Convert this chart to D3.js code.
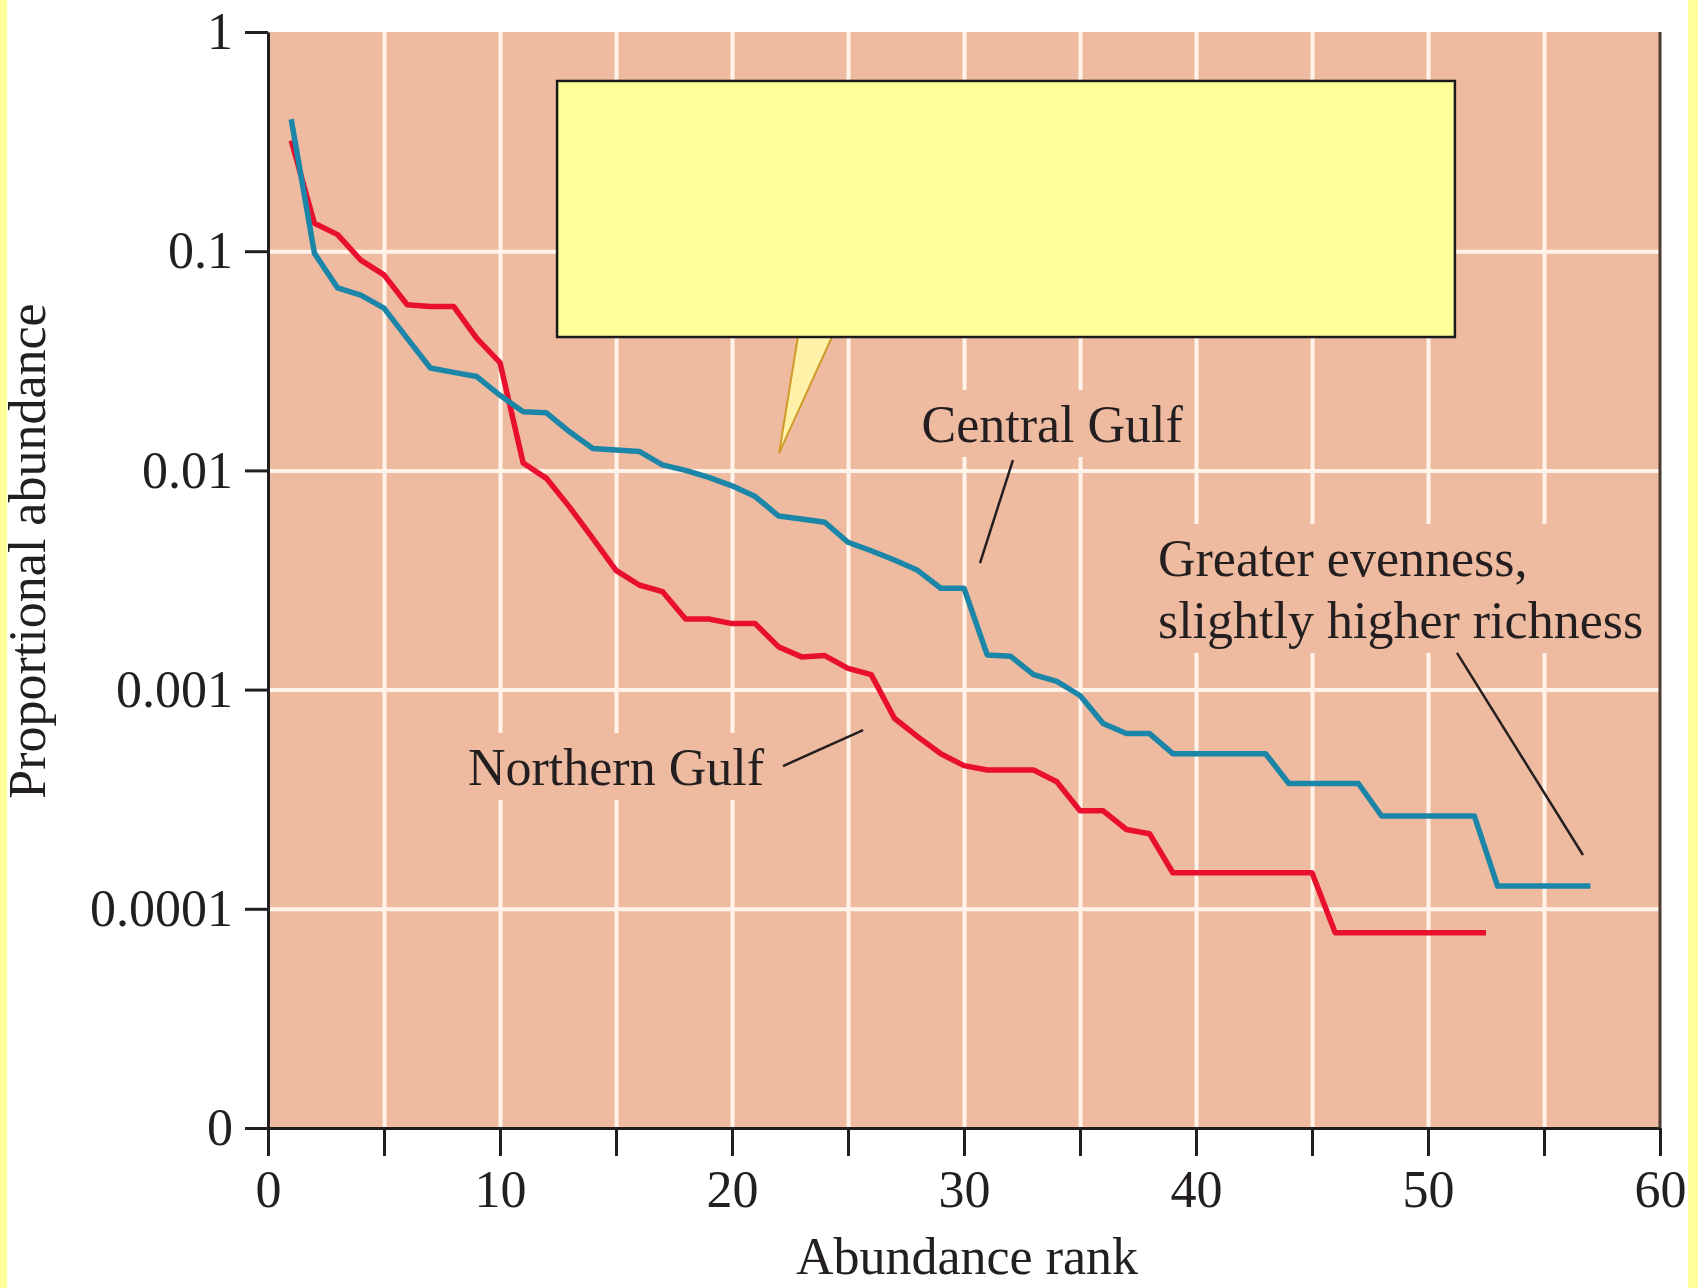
<!DOCTYPE html>
<html>
<head>
<meta charset="utf-8">
<script src="https://cdn.jsdelivr.net/npm/d3@7"></script>
<style>
  body { margin: 0; background: #fff; }
  svg { display: block; }
  text { font-family: "Liberation Serif", "Times New Roman", serif; fill: #231f20; }
</style>
</head>
<body>
<svg id="chart" width="1698" height="1288"></svg>
<script>
// rank-abundance data
const northRank = [1,2,3,4,5,6,7,8,9,10,11,12,13,14,15,16,17,18,19,20,21,22,23,24,25,26,27,28,29,30,
  31,32,33,34,35,36,37,38,39,40,41,42,43,44,45,46,47,48,49,50,51,52,52.5];
const northAbund = [0.32,0.134,0.119,0.091,0.078,0.057,0.056,0.056,0.040,0.031,
  0.0108,0.0092,0.0068,0.0049,0.0035,0.0030,0.0028,0.0021,0.0021,0.0020,
  0.0020,0.00157,0.00141,0.00143,0.00125,0.00117,0.00074,0.00061,0.00051,0.00045,
  0.00043,0.00043,0.00043,0.00038,0.00028,0.00028,0.00023,0.00022,0.000146,0.000146,
  0.000146,0.000146,0.000146,0.000146,0.000146,
  0.0000778,0.0000778,0.0000778,0.0000778,0.0000778,0.0000778,0.0000778,0.0000778];

const centralRank = [1,2,3,4,5,6,7,8,9,10,11,12,13,14,15,16,17,18,19,20,21,22,23,24,25,26,27,28,29,30,
  31,32,33,34,35,36,37,38,39,40,41,42,43,44,45,46,47,48,49,50,51,52,53,54,55,56,57];
const centralAbund = [0.40,0.098,0.068,0.063,0.055,0.040,0.0293,0.028,0.0268,0.022,
  0.0185,0.0183,0.015,0.0126,0.0124,0.0122,0.0106,0.0100,0.0093,0.0085,
  0.0076,0.0062,0.0060,0.0058,0.0047,0.0043,0.0039,0.0035,0.0029,0.0029,
  0.00144,0.00142,0.00117,0.00109,0.00094,0.00070,0.00063,0.00063,0.00051,0.00051,
  0.00051,0.00051,0.00051,0.000373,0.000373,0.000373,0.000373,0.000265,0.000265,0.000265,
  0.000265,0.000265,0.000127,0.000127,0.000127,0.000127,0.000127];

const xTicks = [0,5,10,15,20,25,30,35,40,45,50,55,60];
const xTickLabels = ["0","","10","","20","","30","","40","","50","","60"];
const xGrid = [5,10,15,20,25,30,35,40,45,50,55];
// "0" sits one decade below 0.0001 on this broken log axis
const yTicks = [1e-5,1e-4,1e-3,1e-2,1e-1,1];
const yTickLabels = ["0","0.0001","0.001","0.01","0.1","1"];
const yGrid = [1e-4,1e-3,1e-2,1e-1];

const svg = d3.select('#chart');
const width = 1698, height = 1288;
const plot = { left: 268, right: 1660, top: 32, bottom: 1128 };

// yellow page edges
svg.append('rect').attr('x', 0).attr('y', 0).attr('width', 7).attr('height', height).attr('fill', '#ffff99');
svg.append('rect').attr('x', 1688).attr('y', 0).attr('width', 10).attr('height', height).attr('fill', '#ffff99');

const x = d3.scaleLinear().domain([0, 60]).range([plot.left, plot.right]);
const y = d3.scaleLog().domain([1e-5, 1]).range([plot.bottom, plot.top]);

const salmon = '#efbba0';
svg.append('rect')
  .attr('x', plot.left).attr('y', plot.top)
  .attr('width', plot.right - plot.left).attr('height', plot.bottom - plot.top)
  .attr('fill', salmon);

// Gridlines
const gridX = svg.append('g')
  .attr('transform', `translate(0,${plot.bottom})`)
  .call(d3.axisBottom(x).tickValues(xGrid).tickSize(-(plot.bottom - plot.top)).tickFormat(''));
const gridY = svg.append('g')
  .attr('transform', `translate(${plot.left},0)`)
  .call(d3.axisLeft(y).tickValues(yGrid).tickSize(-(plot.right - plot.left)).tickFormat(''));
[gridX, gridY].forEach(g => {
  g.select('.domain').remove();
  g.selectAll('line').attr('stroke', '#fff3ea').attr('stroke-width', 4);
});

// Labels with knockout background (they interrupt the grid)
const labels = svg.append('g');
function label(lines, r, v, anchor, lineGap) {
  const t = labels.append('text')
    .attr('x', x(r)).attr('y', y(v))
    .attr('text-anchor', anchor)
    .attr('font-size', 52);
  lines.forEach((s, i) => {
    t.append('tspan').attr('x', x(r)).attr('dy', i === 0 ? 0 : lineGap).text(s);
  });
  const b = t.node().getBBox();
  labels.insert('rect', () => t.node())
    .attr('x', b.x - 8).attr('y', b.y - 6)
    .attr('width', b.width + 16).attr('height', b.height + 10)
    .attr('fill', salmon);
}
label(['Central Gulf'], 33.8, 0.01348, 'middle', 0);
label(['Northern Gulf'], 8.62, 0.000367, 'start', 0);
label(['Greater evenness,', 'slightly higher richness'], 38.36, 0.0033, 'start', 62);

// Series lines
const line = d3.line()
  .x(d => x(d[0]))
  .y(d => y(d[1]));

svg.append('path')
  .datum(d3.zip(northRank, northAbund))
  .attr('fill', 'none')
  .attr('stroke', '#e8102e')
  .attr('stroke-width', 5.5)
  .attr('stroke-linejoin', 'round')
  .attr('d', line);

svg.append('path')
  .datum(d3.zip(centralRank, centralAbund))
  .attr('fill', 'none')
  .attr('stroke', '#1b86a8')
  .attr('stroke-width', 5.5)
  .attr('stroke-linejoin', 'round')
  .attr('d', line);

// Leader lines (rank, abundance endpoints)
const leaders = [
  [[32.11, 0.01115], [30.69, 0.00378]],
  [[22.2, 0.000448], [25.65, 0.000654]],
  [[51.25, 0.00147], [56.68, 0.000176]]
];
svg.selectAll('.leader')
  .data(leaders)
  .enter()
  .append('path')
  .attr('class', 'leader')
  .attr('fill', 'none')
  .attr('stroke', '#231f20')
  .attr('stroke-width', 2.5)
  .attr('d', line);

// Callout box with pointer
const pointer = [[22.84, 0.0406], [22.03, 0.0120], [24.31, 0.0406]];
svg.append('path')
  .datum(pointer)
  .attr('fill', '#fff2a8')
  .attr('stroke', '#cf9a2a')
  .attr('stroke-width', 2)
  .attr('d', line);
svg.append('rect')
  .attr('x', x(12.46)).attr('y', y(0.598))
  .attr('width', x(51.16) - x(12.46)).attr('height', y(0.0406) - y(0.598))
  .attr('fill', '#ffff99')
  .attr('stroke', '#1a1a1a')
  .attr('stroke-width', 2.5);

// Axes
const xAxis = svg.append('g')
  .attr('transform', `translate(0,${plot.bottom})`)
  .call(d3.axisBottom(x).tickValues(xTicks)
    .tickFormat((d, i) => xTickLabels[i]).tickSize(28).tickPadding(14).tickSizeOuter(0));
const yAxis = svg.append('g')
  .attr('transform', `translate(${plot.left},0)`)
  .call(d3.axisLeft(y).tickValues(yTicks)
    .tickFormat((d, i) => yTickLabels[i]).tickSize(23).tickPadding(12).tickSizeOuter(0));
[xAxis, yAxis].forEach(g => {
  g.select('.domain').attr('stroke', '#231f20').attr('stroke-width', 3);
  g.selectAll('.tick line').attr('stroke', '#231f20').attr('stroke-width', 3);
  g.selectAll('.tick text')
    .attr('font-family', '"Liberation Serif", "Times New Roman", serif')
    .attr('font-size', 52)
    .attr('fill', '#231f20');
});

// right frame edge
svg.append('line')
  .attr('x1', plot.right).attr('x2', plot.right)
  .attr('y1', plot.top).attr('y2', plot.bottom)
  .attr('stroke', '#4a3a32').attr('stroke-width', 3);

// Axis titles
svg.append('text')
  .attr('x', (plot.left + plot.right) / 2 + 3)
  .attr('y', 1274)
  .attr('text-anchor', 'middle')
  .attr('font-size', 52)
  .text('Abundance rank');

svg.append('text')
  .attr('transform', 'translate(45,551) rotate(-90)')
  .attr('text-anchor', 'middle')
  .attr('font-size', 52)
  .text('Proportional abundance');
</script>
</body>
</html>
